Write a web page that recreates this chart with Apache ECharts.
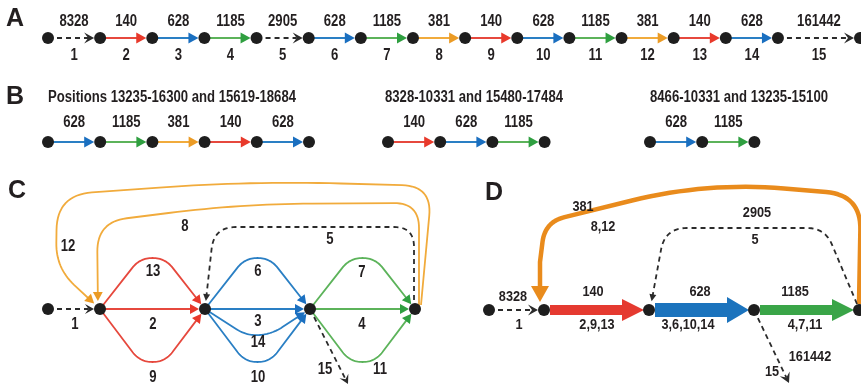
<!DOCTYPE html>
<html><head><meta charset="utf-8">
<script src="https://cdn.jsdelivr.net/npm/echarts@6/dist/echarts.min.js"></script>
<style>html,body{margin:0;padding:0;background:#fff}#main{width:861px;height:390px}</style>
</head><body><div id="main"></div>
<script>
// ---------------- DATA ----------------
const segLengths = [8328,140,628,1185,2905,628,1185,381,140,628,1185,381,140,628,161442];
const segNumbers = [1,2,3,4,5,6,7,8,9,10,11,12,13,14,15];
const panelLetters = ['A','B','C','D'];
const bTitles = ['Positions 13235-16300 and 15619-18684','8328-10331 and 15480-17484','8466-10331 and 13235-15100'];
const bChain1 = [628,1185,381,140,628];
const bChain2 = [140,628,1185];
const bChain3 = [628,1185];
const cFrom = ['s','p','q','r','t','q','r','t','p','q','r','t','p','q','r'];
const cTo   = ['p','q','r','t','q','r','t','p','q','r','t','p','q','r','out'];
const dLengths   = [8328,140,628,1185,381,2905,161442];
const dSegLabels = ['1','2,9,13','3,6,10,14','4,7,11','8,12','5','15'];
const dCounts    = [1,3,4,3,2,1,1];
const dFrom = ['s','n1','n2','n3','n4','n4','n3'];
const dTo   = ['n1','n2','n3','n4','n1','n2','out'];

// ---------------- STYLE / LAYOUT ----------------
const lineColor = {140:'#e6483d',628:'#2a7fc4',1185:'#5cb35a',381:'#f1ab3c'};
const headColor = {140:'#e8392b',628:'#1a6fc0',1185:'#2f9f40',381:'#eb9b25'};
const dColor = {140:'#e53a30',628:'#1b73bd',1185:'#3aa548',381:'#e98b1c'};
const DARK = '#2b2b2b';
const NODE_R = 6;
const SANS = '"Liberation Sans",Arial,sans-serif';
const LBL_FONT = 'bold 16px ' + SANS;
const D_FONT = 'bold 15.5px ' + SANS;
const LET_FONT = 'bold 25px ' + SANS;
const NARROW_SCALE = 0.82;

const edges = [], nodes = [], texts = [];
function dist(a,b){return Math.hypot(b[0]-a[0],b[1]-a[1]);}
function rounded(pts, radii){
  const out=[pts[0]];
  for(let i=1;i<pts.length-1;i++){
    const p0=pts[i-1],p1=pts[i],p2=pts[i+1];
    const d1=dist(p0,p1),d2=dist(p1,p2);
    const r=Math.min(radii[i-1]||0,d1/2,d2/2);
    if(r<=0){out.push(p1);continue;}
    const a=[p1[0]+(p0[0]-p1[0])*r/d1,p1[1]+(p0[1]-p1[1])*r/d1];
    const b=[p1[0]+(p2[0]-p1[0])*r/d2,p1[1]+(p2[1]-p1[1])*r/d2];
    for(let k=0;k<=16;k++){const t=k/16;
      out.push([(1-t)*(1-t)*a[0]+2*(1-t)*t*p1[0]+t*t*b[0],(1-t)*(1-t)*a[1]+2*(1-t)*t*p1[1]+t*t*b[1]]);}
  }
  out.push(pts[pts.length-1]);
  return out;
}
function trimEnd(pts,d){
  const p=pts.slice(); let rem=d;
  while(p.length>1){
    const a=p[p.length-2],b=p[p.length-1],L=dist(a,b);
    if(L>=rem){const t=L?rem/L:0;p[p.length-1]=[b[0]+(a[0]-b[0])*t,b[1]+(a[1]-b[1])*t];return p;}
    rem-=L;p.pop();
  }
  return p;
}
function text(t,x,y,font,align,sx){texts.push({t:String(t),x,y,font:font||LBL_FONT,align:align||'center',sx:sx||NARROW_SCALE});}
function styleFor(len, scale){
  if(lineColor[len]) return {color:lineColor[len],head:'tri',headColor:headColor[len],width:2,hl:10*scale,hw:5.5*scale};
  return {color:DARK,dash:true,head:'chev',headColor:DARK,width:1.8,hl:10*scale,hw:5.5*scale};
}

// ---- Panel A ----
const A_Y=38, A_X0=48, STEP=52.14, A_LAST=860;
const ax = i => i<segLengths.length ? A_X0+i*STEP : A_LAST;
text(panelLetters[0],6,19,LET_FONT,'left',1);
for(let i=0;i<=segLengths.length;i++) nodes.push([ax(i),A_Y]);
segLengths.forEach((len,i)=>{
  const x1=ax(i),x2=ax(i+1);
  edges.push(Object.assign({pts:[[x1,A_Y],[x2,A_Y]],gap:NODE_R},styleFor(len,1)));
  text(len,(x1+x2)/2,A_Y-16.5);
  text(segNumbers[i],(x1+x2)/2,A_Y+18);
});

// ---- Panel B ----
const B_Y=142, bStarts=[48,388,650], bTitleX=[48,385,650];
text(panelLetters[1],6,97,LET_FONT,'left',1);
[bChain1,bChain2,bChain3].forEach((chain,g)=>{
  text(bTitles[g],bTitleX[g],98,LBL_FONT,'left');
  const bx=i=>bStarts[g]+i*52.2;
  for(let i=0;i<=chain.length;i++) nodes.push([bx(i),B_Y]);
  chain.forEach((len,i)=>{
    edges.push(Object.assign({pts:[[bx(i),B_Y],[bx(i+1),B_Y]],gap:NODE_R},styleFor(len,1)));
    text(len,(bx(i)+bx(i+1))/2,B_Y-19);
  });
});

// ---- Panel C ----
const cPos={s:[48,309],p:[100,309],q:[205,309],r:[310,309],t:[415,309],out:[348,384]};
text(panelLetters[2],8,191,LET_FONT,'left',1);
['s','p','q','r','t'].forEach(k=>nodes.push(cPos[k]));
const cShape={1:'line',2:'line',3:'line',4:'line',15:'line',13:'up',6:'up',7:'up',9:'down',10:'down',11:'down',14:'shallow',5:'loop',8:'loop',12:'loop'};
const cLoops={
  5:{pts:[[414,309],[414,227],[214,227],[205,309]],radii:[20,22]},
  8:{pts:[[419,306],[419,203],[240,204],[97,222],[98,309]],radii:[25,100,30]},
  12:{pts:[[421,305],[432,186],[250,181],[57,195],[56,268],[100,309]],radii:[30,120,35,25]}
};
const cLabelPos={1:[75,325],2:[153,325],13:[153,272],9:[153,378],3:[258,322],6:[258,272],14:[258,343],10:[258,378],4:[362,325],7:[362,273],11:[380,370],15:[325,370],5:[330,240],8:[185,227],12:[68,247]};
segLengths.forEach((len,i)=>{
  const n=segNumbers[i],A=cPos[cFrom[i]],B=cPos[cTo[i]],sh=cShape[n];
  let pts;
  if(sh==='line') pts=[A,B];
  else if(sh==='up') pts=rounded([A,[A[0]+40,A[1]-51],[B[0]-40,B[1]-51],B],[14,14]);
  else if(sh==='down') pts=rounded([A,[A[0]+40,A[1]+53],[B[0]-40,B[1]+53],B],[14,14]);
  else if(sh==='shallow') pts=rounded([A,[A[0]+42,A[1]+27],[B[0]-38,B[1]+25],B],[30,30]);
  else pts=rounded(cLoops[n].pts,cLoops[n].radii);
  const st=styleFor(len,0.9);
  st.width=1.8;
  if(sh==='loop'&&!lineColor[len]){st.head='tri';st.hl=7;st.hw=3.5;}
  edges.push(Object.assign({pts,gap:cTo[i]==='out'?0:(sh==='loop'?8:NODE_R)},st));
  text(n,cLabelPos[n][0],cLabelPos[n][1]);
});

// ---- Panel D ----
const dPos={s:[489,310],n1:[544,310],n2:[649,310],n3:[754,310],n4:[859,310],out:[789,383]};
text(panelLetters[3],485,193,LET_FONT,'left',1);
['s','n1','n2','n3','n4'].forEach(k=>nodes.push(dPos[k]));
const dShaft={2:4.5,3:10,4:14};
const dHead={3:11,4:13};
const dLoops={
  381:{pts:[[859,304],[861,195],[707,182],[545,222],[540,262],[540,310]],radii:[35,100,35,0]},
  2905:{pts:[[857,304],[825,228],[665,228],[650,310]],radii:[18,22]}
};
const dTopPos=[[513,297],[593,292],[700,292],[795,292],[583,207],[757,213],[810,357]];
const dBotPos=[[519,325],[597,325],[688,325],[805,325],[603,227],[755,240],[772,372]];
dLengths.forEach((len,i)=>{
  const A=dPos[dFrom[i]],B=dPos[dTo[i]];
  if(dColor[len] && dCounts[i]>=3){
    edges.push({block:true,from:[A[0]+NODE_R,A[1]],to:[B[0]-5,B[1]],sw:dShaft[dCounts[i]]/2,hw:dHead[dCounts[i]],hl:22,color:dColor[len]});
  } else if(dColor[len]){
    edges.push({pts:rounded(dLoops[len].pts,dLoops[len].radii),gap:8,color:dColor[len],width:dShaft[dCounts[i]],head:'tri',headColor:dColor[len],hl:16,hw:9});
  } else if(dLoops[len]){
    edges.push({pts:rounded(dLoops[len].pts,dLoops[len].radii),gap:9,color:DARK,dash:true,width:1.8,head:'tri',headColor:DARK,hl:7,hw:3.5});
  } else {
    edges.push(Object.assign({pts:[A,B],gap:dTo[i]==='out'?0:NODE_R},styleFor(len,1)));
  }
  text(len,dTopPos[i][0],dTopPos[i][1],D_FONT);
  text(dSegLabels[i],dBotPos[i][0],dBotPos[i][1],D_FONT);
});

// ---------------- RENDER ----------------
function renderEdge(params, api){
  const e=edges[params.dataIndex];
  const c=p=>api.coord(p);
  if(e.block){
    const [x1,y]=e.from,[x2]=e.to,base=x2-e.hl;
    const poly=[[x1,y-e.sw],[base,y-e.sw],[base,y-e.hw],[x2,y],[base,y+e.hw],[base,y+e.sw],[x1,y+e.sw]];
    return {type:'polygon',shape:{points:poly.map(c)},style:{fill:e.color}};
  }
  const p=e.gap?trimEnd(e.pts,e.gap):e.pts;
  const tip=p[p.length-1];
  const bk=trimEnd(p,e.hl); const bp=bk[bk.length-1];
  const L=dist(bp,tip)||1, ux=(tip[0]-bp[0])/L, uy=(tip[1]-bp[1])/L, nx=-uy, ny=ux;
  const base=[tip[0]-ux*e.hl,tip[1]-uy*e.hl];
  const line=trimEnd(p,e.head==='chev'?e.hl*0.6:e.hl*0.5);
  let head;
  if(e.head==='chev') head=[tip,[base[0]+nx*e.hw,base[1]+ny*e.hw],[base[0]+ux*e.hl*0.4,base[1]+uy*e.hl*0.4],[base[0]-nx*e.hw,base[1]-ny*e.hw]];
  else head=[tip,[base[0]+nx*e.hw,base[1]+ny*e.hw],[base[0]-nx*e.hw,base[1]-ny*e.hw]];
  return {type:'group',children:[
    {type:'polyline',shape:{points:line.map(c)},style:{stroke:e.color,lineWidth:e.width,fill:null,lineDash:e.dash?[5,4]:null,lineJoin:'round'}},
    {type:'polygon',shape:{points:head.map(c)},style:{fill:e.headColor}}
  ]};
}
function renderText(params, api){
  const t=texts[params.dataIndex]; const p=api.coord([t.x,t.y]);
  return {type:'text',x:p[0],y:p[1],scaleX:t.sx,style:{text:t.t,font:t.font,fill:'#231f20',align:t.align,verticalAlign:'middle',textAlign:t.align,textVerticalAlign:'middle'}};
}
const chart=echarts.init(document.getElementById('main'),null,{renderer:'canvas'});
chart.setOption({
  animation:false,
  backgroundColor:'#ffffff',
  grid:{left:0,right:0,top:0,bottom:0},
  xAxis:{type:'value',min:0,max:861,show:false},
  yAxis:{type:'value',min:0,max:390,inverse:true,show:false},
  series:[
    {type:'custom',renderItem:renderEdge,data:edges.map((e,i)=>[i]),silent:true,z:2,clip:false},
    {type:'scatter',data:nodes,symbolSize:12,itemStyle:{color:'#1e1e1e',opacity:1},silent:true,z:5},
    {type:'custom',renderItem:renderText,data:texts.map((t,i)=>[i]),silent:true,z:6,clip:false}
  ]
});
</script></body></html>
